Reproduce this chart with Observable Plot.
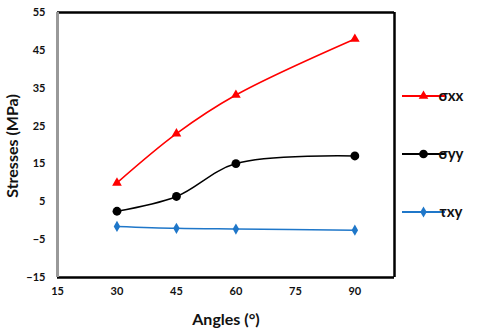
<!DOCTYPE html>
<html>
<head>
<meta charset="utf-8">
<script src="https://cdn.jsdelivr.net/npm/d3@7"></script>
<script src="https://cdn.jsdelivr.net/npm/@observablehq/plot@0.6"></script>
<style>
  html, body { margin: 0; padding: 0; background: #fff; }
  #chart { width: 480px; height: 331px; }
</style>
</head>
<body>
<div id="chart"></div>
<script>
const angles = [30, 45, 60, 90];
const sigmaXX = [10, 23, 33.2, 48];
const sigmaYY = [2.5, 6.4, 15.1, 17.1];
const tauXY = [-1.5, -2.0, -2.2, -2.5];
const xTicks = [15, 30, 45, 60, 75, 90];
const yTicks = [-15, -5, 5, 15, 25, 35, 45, 55];
const seriesNames = ["σxx", "σyy", "τxy"];
const seriesColors = ["#ff0000", "#000000", "#1f77c9"];

const data = [];
[sigmaXX, sigmaYY, tauXY].forEach((vals, i) => {
  vals.forEach((v, j) => data.push({angle: angles[j], value: v, series: seriesNames[i]}));
});
const byS = s => data.filter(d => d.series === s);

const font = "Lato, 'Open Sans', sans-serif";

const plot = Plot.plot({
  width: 480,
  height: 331,
  marginLeft: 57,
  marginRight: 86,
  marginTop: 12,
  marginBottom: 54,
  style: {fontFamily: font, fontSize: "11px", fontWeight: "bold", color: "#111", background: "#fff"},
  x: {domain: [15, 100], ticks: xTicks, tickSize: 0, tickPadding: 10, label: null},
  y: {domain: [-15, 55], ticks: yTicks, tickSize: 0, tickPadding: 12, label: null},
  marks: [
    Plot.line(byS("σxx"), {x: "angle", y: "value", stroke: seriesColors[0], strokeWidth: 1.5, curve: "catmull-rom"}),
    Plot.line(byS("σyy"), {x: "angle", y: "value", stroke: seriesColors[1], strokeWidth: 1.5, curve: "catmull-rom"}),
    Plot.line(byS("τxy"), {x: "angle", y: "value", stroke: seriesColors[2], strokeWidth: 1.5, curve: "catmull-rom"}),
    Plot.dot(byS("σxx"), {x: "angle", y: "value", symbol: "triangle", fill: seriesColors[0], r: 3.6}),
    Plot.dot(byS("σyy"), {x: "angle", y: "value", symbol: "circle", fill: seriesColors[1], r: 4.4}),
    Plot.dot(byS("τxy"), {x: "angle", y: "value", symbol: "diamond", fill: seriesColors[2], r: 3.4}),
    Plot.ruleY([55], {stroke: "#000", strokeWidth: 2.5}),
    Plot.ruleY([-15], {stroke: "#000", strokeWidth: 2.5}),
    Plot.ruleX([100], {stroke: "#000", strokeWidth: 2.5}),
    Plot.ruleX([15], {stroke: "#999", strokeWidth: 3})
  ]
});

const svg = d3.select(plot);
// axis titles
svg.append("text")
  .attr("x", 226).attr("y", 325)
  .attr("text-anchor", "middle")
  .attr("font-family", font).attr("font-size", 16).attr("font-weight", "bold").attr("fill", "#111")
  .text("Angles (°)");
svg.append("text")
  .attr("transform", "translate(18,146) rotate(-90)")
  .attr("text-anchor", "middle")
  .attr("font-family", font).attr("font-size", 16).attr("font-weight", "bold").attr("fill", "#111")
  .text("Stresses (MPa)");

// legend
const legendY = [96, 154, 212];
const symbols = [d3.symbolTriangle, d3.symbolCircle, d3.symbolDiamond];
const symSize = [40, 60, 36];
seriesNames.forEach((name, i) => {
  const g = svg.append("g").attr("transform", `translate(402,${legendY[i]})`);
  g.append("line").attr("x1", 0).attr("x2", 43).attr("y1", 0).attr("y2", 0)
    .attr("stroke", seriesColors[i]).attr("stroke-width", 1.8);
  g.append("path").attr("d", d3.symbol(symbols[i], symSize[i])())
    .attr("transform", "translate(21.5,0)").attr("fill", seriesColors[i]);
  g.append("text").attr("x", 49).attr("y", 0).attr("dy", "0.35em")
    .attr("font-family", font).attr("font-size", 15).attr("font-weight", "bold").attr("fill", "#111")
    .text(name);
});

document.getElementById("chart").appendChild(plot);
</script>
</body>
</html>
